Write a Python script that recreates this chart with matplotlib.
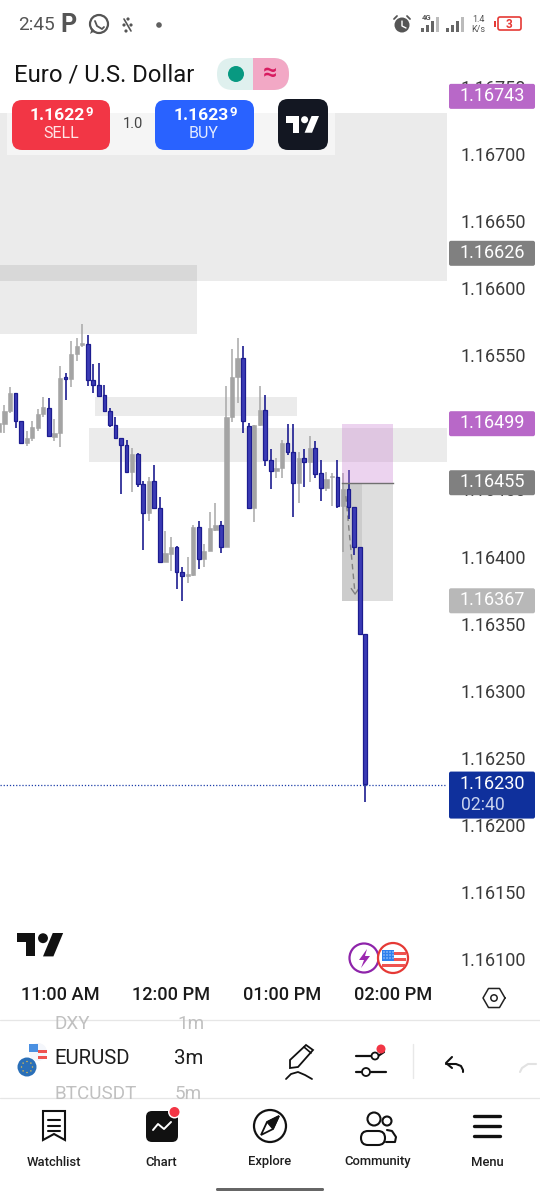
import numpy as np
import matplotlib
matplotlib.use("Agg")
import matplotlib.pyplot as plt
from matplotlib.patches import FancyBboxPatch, Rectangle, Circle, Polygon, Wedge

plt.rcParams['font.family'] = ['Roboto', 'DejaVu Sans']

# ---------- data: 3-minute EURUSD candles, minutes relative to 11:00 AM ----------
minutes = list(range(-33, 168, 3))
opens = [1.164925,1.164987,1.165084,1.165216,1.165007,1.164843,1.164880,1.164960,1.165059,1.165109,
         1.164893,1.164918,1.165335,1.165320,1.165507,1.165579,1.165581,1.165318,1.165278,1.165201,
         1.165087,1.164982,1.164880,1.164831,1.164630,1.164761,1.164540,1.164321,1.164562,1.164359,
         1.163959,1.164018,1.164071,1.163882,1.163852,1.163862,1.164223,1.163979,1.164041,1.164198,
         1.164235,1.164069,1.165038,1.165341,1.165480,1.164973,1.164359,1.164980,1.165090,1.164720,
         1.164640,1.164657,1.164844,1.164782,1.164551,1.164732,1.164707,1.164809,1.164620,1.164513,
         1.164593,1.164590,1.164377,1.164501,1.164372,1.164074,1.163422]
highs = [1.165042,1.165129,1.165261,1.165216,1.165012,1.164938,1.165010,1.165099,1.165186,1.165179,
         1.165022,1.165420,1.165370,1.165608,1.165631,1.165733,1.165651,1.165432,1.165439,1.165278,
         1.165104,1.165037,1.164880,1.164868,1.164806,1.164774,1.164565,1.164590,1.164682,1.164441,
         1.164190,1.164148,1.164078,1.163919,1.163994,1.164235,1.164262,1.164093,1.164329,1.164401,
         1.164262,1.165271,1.165549,1.165631,1.165569,1.164998,1.164983,1.165271,1.165202,1.164799,
         1.164732,1.164869,1.164985,1.164985,1.164782,1.164799,1.164898,1.164859,1.164720,1.164628,
         1.164620,1.164720,1.164625,1.164645,1.164372,1.164074,1.163422]
lows = [1.164913,1.164923,1.165072,1.164955,1.164838,1.164826,1.164863,1.164938,1.165037,1.164898,
        1.164863,1.164813,1.165166,1.165266,1.165459,1.165564,1.165271,1.165221,1.165196,1.165079,
        1.164962,1.164878,1.164466,1.164630,1.164483,1.164520,1.164048,1.164267,1.164354,1.163959,
        1.163959,1.163894,1.163755,1.163671,1.163805,1.163857,1.163907,1.163924,1.164041,1.164193,
        1.164024,1.164069,1.165005,1.165142,1.164923,1.164359,1.164255,1.164973,1.164675,1.164506,
        1.164583,1.164583,1.164759,1.164292,1.164397,1.164516,1.164553,1.164583,1.164416,1.164491,
        1.164377,1.164364,1.164036,1.164280,1.164011,1.163422,1.162170]
closes = [1.164992,1.165087,1.165216,1.165012,1.164843,1.164880,1.164962,1.165062,1.165112,1.164898,
          1.164918,1.165328,1.165325,1.165509,1.165569,1.165589,1.165318,1.165278,1.165198,1.165087,
          1.164980,1.164880,1.164831,1.164630,1.164761,1.164540,1.164321,1.164562,1.164359,1.163959,
          1.164023,1.164071,1.163882,1.163852,1.163867,1.164222,1.163979,1.164044,1.164210,1.164235,
          1.164069,1.165038,1.165341,1.165482,1.165010,1.164359,1.164983,1.165092,1.164720,1.164640,
          1.164660,1.164849,1.164777,1.164551,1.164732,1.164707,1.164809,1.164615,1.164513,1.164580,
          1.164600,1.164377,1.164501,1.164372,1.164069,1.163422,1.162304]

price_ticks = [1.161, 1.1615, 1.162, 1.1625, 1.163, 1.1635, 1.164, 1.1645, 1.165, 1.1655, 1.166, 1.1665, 1.167, 1.1675]
time_ticks = [0, 60, 120, 180]
time_labels = ['11:00 AM', '12:00 PM', '01:00 PM', '02:00 PM']

# supply / demand zones: start minute, end minute, top price, bottom price
zone_starts = [-33, -33, 18.9, 15.7]
zone_ends = [210, 74.1, 128.1, 210]
zone_tops = [1.167306, 1.166173, 1.165189, 1.164958]
zone_bottoms = [1.166053, 1.165658, 1.165047, 1.164704]

# short position drawing
pos_start, pos_end, pos_mid = 152.4, 180.0, 163.0
stop_price, entry_price, target_price = 1.16499, 1.16455, 1.16367
path_minutes = [154.5, 159.5]
path_prices = [1.16445, 1.16372]

# price tags: price, text, colour
tag_prices = [1.16743, 1.16626, 1.16499, 1.16455, 1.16367]
tag_colors = ['#b868c8', '#808080', '#b868c8', '#808080', '#b8b8b8']
last_price = 1.16230
countdown = '02:40'

# ---------- figure ----------
W, H = 540, 1200
fig = plt.figure(figsize=(5.4, 12), dpi=100, facecolor='white')
top_px, bot_px, right_px = 60, 985, 447
ax = fig.add_axes([0, 1 - bot_px / H, right_px / W, (bot_px - top_px) / H])
ax.set_xlim(-32.43, 209.19)
ax.set_ylim(1.160806, 1.167701)
for s in ax.spines.values():
    s.set_visible(False)
ax.yaxis.tick_right()
ax.set_yticks(price_ticks)
ax.set_yticklabels([f'{p:.5f}' for p in price_ticks], fontsize=13.0, color='#3a3a3a')
ax.set_xticks(time_ticks)
ax.set_xticklabels(time_labels, fontsize=13.1, color='#1a1a1a', fontweight='medium')
ax.tick_params(axis='y', length=0, pad=10)
ax.tick_params(axis='x', length=0, pad=1.0)

for a, b, t, d in zip(zone_starts, zone_ends, zone_tops, zone_bottoms):
    ax.add_patch(Rectangle((a, d), b - a, t - d, fc='#000000', alpha=0.08, ec='none', zorder=1))

o, hi, lo, c, m = map(np.array, (opens, highs, lows, closes, minutes))
up = c >= o
ax.vlines(m[up], lo[up], hi[up], color='#a8a8a8', lw=1.1, zorder=2)
ax.bar(m[up], (c - o)[up], bottom=o[up], width=2.3, color='#a4a4a4', edgecolor='#a4a4a4', lw=0.4, zorder=3)
ax.vlines(m[~up], lo[~up], hi[~up], color='#1c1c90', lw=1.2, zorder=4)
ax.bar(m[~up], (c - o)[~up], bottom=o[~up], width=2.0, color='#3b3bb5', edgecolor='#1c1c90', lw=0.9, zorder=5)

# position tool
ax.add_patch(Rectangle((pos_start, entry_price), pos_end - pos_start, stop_price - entry_price,
                       fc='#c77ccf', alpha=0.33, ec='none', zorder=6))
ax.add_patch(Rectangle((pos_start, target_price), pos_end - pos_start, entry_price - target_price,
                       fc='#9a9a9a', alpha=0.32, ec='none', zorder=2.5))
ax.add_patch(Rectangle((pos_start, target_price), pos_mid - pos_start, entry_price - target_price,
                       fc='#9a9a9a', alpha=0.25, ec='none', zorder=2.5))
ax.plot([pos_start, pos_end], [entry_price, entry_price], color='#707070', lw=1.0, zorder=6)
ax.plot(path_minutes, path_prices, color='#808080', lw=1.0, ls=(0, (4, 3)), zorder=3.5)
ax.plot([path_minutes[1] - 2, path_minutes[1], path_minutes[1] + 2],
        [path_prices[1] + 0.00004, path_prices[1], path_prices[1] + 0.00004], color='#808080', lw=1.0, zorder=3.5)
ax.axhline(last_price, color='#1c3fa8', lw=0.9, ls=(0, (1, 1.5)), zorder=6)

# ---------- overlay in pixels ----------
ui = fig.add_axes([0, 0, 1, 1], facecolor='none')
ui.set_xlim(0, W)
ui.set_ylim(H, 0)
ui.axis('off')


def price_y(p):
    return ui.transData.inverted().transform(ax.transData.transform((0, p)))[1]


def rrect(x0, y0, x1, y1, r, fc, ec='none', lw=0, z=5, **kw):
    p = FancyBboxPatch((x0 + r, y0 + r), x1 - x0 - 2 * r, y1 - y0 - 2 * r,
                       boxstyle=f'round,pad={r},rounding_size={r}', fc=fc, ec=ec, lw=lw, zorder=z, **kw)
    ui.add_patch(p)
    return p


def txt(x, y, s, size=10, color='#1a1a1a', ha='left', weight='normal', z=8, **kw):
    return ui.text(x, y, s, fontsize=size, color=color, ha=ha, va='center', fontweight=weight, zorder=z, **kw)


def circ(x, y, r, fc='none', ec='none', lw=0, z=7):
    ui.add_patch(Circle((x, y), r, fc=fc, ec=ec, lw=lw, zorder=z))


def line(xs, ys, color='#111111', lw=1.6, z=7, **kw):
    ui.plot(xs, ys, color=color, lw=lw, zorder=z, solid_capstyle='round', **kw)


def tv_logo(x, y, s, color):
    ui.add_patch(Polygon([(x, y), (x + 14 * s, y), (x + 14 * s, y + 18 * s), (x + 7 * s, y + 18 * s),
                          (x + 7 * s, y + 7 * s), (x, y + 7 * s)], fc=color, ec='none', zorder=9))
    ui.add_patch(Polygon([(x + 27.5 * s, y), (x + 35.5 * s, y), (x + 28 * s, y + 18 * s), (x + 20 * s, y + 18 * s)],
                         fc=color, ec='none', zorder=9))
    circ(x + 20 * s, y + 4 * s, 3.8 * s, fc=color, z=9)


# price tags
for p, col in zip(tag_prices, tag_colors):
    y = price_y(p)
    rrect(449, y - 12.5, 535, y + 12.5, 2, col)
    txt(492, y - 0.5, f'{p:.5f}', 13.0, 'white', 'center')
yl = price_y(last_price)
rrect(449, yl - 13, 535, yl + 34, 2, '#0f309c')
txt(492, yl - 0.5, f'{last_price:.5f}', 13.0, 'white', 'center')
txt(461, yl + 20, countdown, 12.7, '#c8d2ee')

# status bar
ui.add_patch(Rectangle((0, 0), W, 58, fc='white', ec='none', zorder=4))
txt(18, 25, '2:45', 13.7, '#555555')
txt(60, 25, 'P', 18, '#555555', weight='bold')
circ(99, 24, 9, ec='#555555', lw=1.6)
ui.add_patch(Polygon([(90, 34), (92, 28), (95, 31)], fc='#555555', zorder=7))
line([95, 97, 102, 104], [21, 26, 29, 27], '#555555', 1.3)
for xa, ya in [(128, 19), (124, 25), (131, 25), (126, 31)]:
    circ(xa, ya, 1.6, fc='#555555')
line([124, 131], [19, 31], '#555555', 1.2)
circ(159, 25, 2.8, fc='#606060')
circ(402, 25, 7.5, fc='#555555')
line([394, 397], [19, 16], '#555555', 1.3)
line([410, 407], [19, 16], '#555555', 1.3)
line([402, 402, 406], [21, 26, 28], 'white', 1.0, z=8)
txt(427, 17, '4G', 5.5, '#555555', 'center', weight='bold')
for i, h_ in enumerate([4, 7, 11, 15]):
    ui.add_patch(Rectangle((421 + i * 5, 32 - h_), 2.5, h_, fc='#666666' if i < 3 else '#bbbbbb', ec='none', zorder=7))
for i, h_ in enumerate([4, 7, 11, 15]):
    ui.add_patch(Rectangle((446 + i * 5, 32 - h_), 2.5, h_, fc='#666666' if i < 3 else '#bbbbbb', ec='none', zorder=7))
txt(478, 19, '1.4', 6.5, '#555555', 'center')
txt(478, 29, 'K/s', 6.5, '#555555', 'center')
rrect(498, 17, 521, 30, 2, 'white', ec='#e53935', lw=1.2)
ui.add_patch(Rectangle((494, 21), 1.5, 6, fc='#e53935', ec='none', zorder=7))
txt(509.5, 24, '3', 8.5, '#e53935', 'center', weight='bold')

# title row
txt(14, 75, 'Euro / U.S. Dollar', 17.2, '#141414')
rrect(217, 58, 289, 90, 16, '#dff0ee', z=5)
pink = rrect(217, 58, 289, 90, 16, '#f2a8c5', z=6)
pink.set_clip_path(Rectangle((253, 50), 40, 50, transform=ui.transData))
circ(236, 74, 8, fc='#089981')
txt(270, 73, '≈', 18, '#d81b60', 'center', weight='bold')

# trade bar
ui.add_patch(Rectangle((7, 113), 328, 42, fc='#f5f5f5', ec='none', zorder=4))
rrect(12, 100, 110, 150, 10, '#f23645')
txt(85, 115, '1.1622', 12.6, 'white', 'right', weight='bold')
txt(85, 112, '9', 9.5, 'white', 'left', weight='bold')
txt(61, 134, 'SELL', 11.5, '#ffe5e7', 'center')
txt(133, 124, '1.0', 10.5, '#444444', 'center')
rrect(155, 100, 254, 150, 10, '#2962ff')
txt(229, 115, '1.1623', 12.6, 'white', 'right', weight='bold')
txt(229, 112, '9', 9.5, 'white', 'left', weight='bold')
txt(204, 134, 'BUY', 11.5, '#e3ebff', 'center')
rrect(278, 99, 328, 150, 10, '#131722')
tv_logo(286, 116, 0.93, 'white')

# chart watermark and event badges
tv_logo(17, 933, 1.3, '#111111')
circ(364, 958, 14.5, fc='white', ec='#8e24aa', lw=1.6)
ui.add_patch(Polygon([(367, 949), (359, 960), (364, 960), (361, 968), (370, 956), (365, 956)], fc='#9c27b0', zorder=8))
circ(393, 958, 15, fc='white', ec='#e53935', lw=1.6, z=8)
ui.add_patch(Rectangle((382, 950), 12, 11, fc='#2f80ed', ec='none', zorder=9))
for yy in [952, 958, 964]:
    ui.add_patch(Rectangle((394 if yy < 961 else 382, yy), 12 if yy < 961 else 23, 3, fc='#ef5350', ec='none', zorder=9))
for xx in range(384, 394, 3):
    for yy in (952, 955, 958):
        circ(xx, yy, 0.6, fc='white', z=10)

# hex settings
hx = [494 + 11 * np.cos(np.radians(a)) for a in range(0, 361, 60)]
hy = [998 + 11 * np.sin(np.radians(a)) for a in range(0, 361, 60)]
line(hx, hy, '#222222', 1.1)
circ(494, 998, 3.2, ec='#222222', lw=1.1)

# symbol row
ui.add_patch(Rectangle((0, 1008), W, 92, fc='white', ec='none', zorder=4))
line([0, W], [1020, 1020], '#e6e6e6', 0.9)
line([0, W], [1098, 1098], '#e6e6e6', 0.9)
clip_row = Rectangle((0, 1021), W, 76, transform=ui.transData)
for x_, y_, s_ in [(55, 1024, 'DXY'), (177, 1024, '1m'), (55, 1094, 'BTCUSDT'), (175, 1094, '5m')]:
    t = txt(x_, y_, s_, 13.6, '#c0c0c0')
    t.set_clip_path(clip_row)
circ(38, 1052, 9, fc='#f4f6fb')
ui.add_patch(Rectangle((29, 1044), 9, 8, fc='#4a90e2', ec='none', zorder=7))
for yy in (1050, 1056):
    ui.add_patch(Rectangle((38, yy), 9, 3, fc='#ef5350', ec='none', zorder=7))
circ(27, 1067, 9.5, fc='#2a6fb8', z=8)
for a in range(0, 360, 45):
    circ(27 + 5.5 * np.cos(np.radians(a)), 1067 + 5.5 * np.sin(np.radians(a)), 0.7, fc='#f5c542', z=9)
txt(54, 1059, 'EURUSD', 14.7, '#1e1e1e')
txt(174, 1059, '3m', 14.7, '#1e1e1e')
# pencil
ui.add_patch(Polygon([(290, 1060), (306, 1045), (313, 1050), (298, 1067), (290, 1068)], fc='white', ec='#111111', lw=1.3, zorder=7))
line([304, 311], [1047, 1053], '#111111', 1.2)
line([286, 291, 298, 305, 312], [1079, 1074, 1072, 1075, 1079], '#111111', 1.3)
# sliders
line([356, 372], [1056, 1056]); line([378, 384], [1056, 1052]); circ(375, 1056, 3.5, fc='white', ec='#111111', lw=1.3)
line([356, 362], [1072, 1072]); line([371, 386], [1072, 1072]); circ(366, 1072, 4, fc='white', ec='#111111', lw=1.3)
circ(381, 1049, 4.5, fc='#f23645', z=8)
line([413, 413], [1044, 1078], '#e8e8e8', 1.0)
# undo / redo
line([446, 456, 461, 463, 463], [1064, 1064, 1066, 1070, 1072], '#111111', 1.5)
line([452, 446, 452], [1057, 1063, 1068], '#111111', 1.5)
line([520, 522, 528, 536], [1072, 1068, 1064, 1064], '#e2e2e2', 1.5)

# bottom navigation
names = ['Watchlist', 'Chart', 'Explore', 'Community', 'Menu']
for x_, s_ in zip([54, 161, 270, 378, 487], names):
    txt(x_, 1162, s_, 9.4, '#1e1e1e', 'center', weight='medium')
ui.add_patch(Polygon([(43, 1111), (65, 1111), (65, 1140), (54, 1134), (43, 1140)], fc='white', ec='#111111', lw=1.5, zorder=7))
for yy in (1120, 1126, 1131):
    line([48, 60], [yy, yy], '#111111', 1.5)
rrect(146, 1111, 178, 1142, 6, '#111111', z=7)
line([153, 158, 164, 171], [1130, 1124, 1129, 1122], 'white', 1.4, z=8)
circ(174.5, 1112, 6.5, fc='white', z=8)
circ(174.5, 1112, 5, fc='#f23645', z=9)
circ(270, 1126, 16, ec='#111111', lw=1.6)
ui.add_patch(Polygon([(279, 1116), (273, 1129), (261, 1135), (267, 1122)], fc='white', ec='#111111', lw=1.3, zorder=7))
ui.add_patch(Polygon([(279, 1116), (273, 1129), (267, 1122)], fc='#111111', ec='#111111', lw=1.0, zorder=8))
circ(374, 1119, 6.5, ec='#111111', lw=1.5)
circ(387, 1121, 4.5, ec='#111111', lw=1.5)
rrect(361, 1131, 385, 1145, 7, 'white', ec='#111111', lw=1.5, z=7)
line([387, 392, 396, 395, 386], [1130, 1131, 1137, 1142, 1142], '#111111', 1.5)
for yy in (1116, 1126, 1136):
    line([474, 500], [yy, yy], '#111111', 2.4)
rrect(216, 1188, 324, 1191, 1.4, '#666666')

fig.savefig('out.png', dpi=100, facecolor='white')
